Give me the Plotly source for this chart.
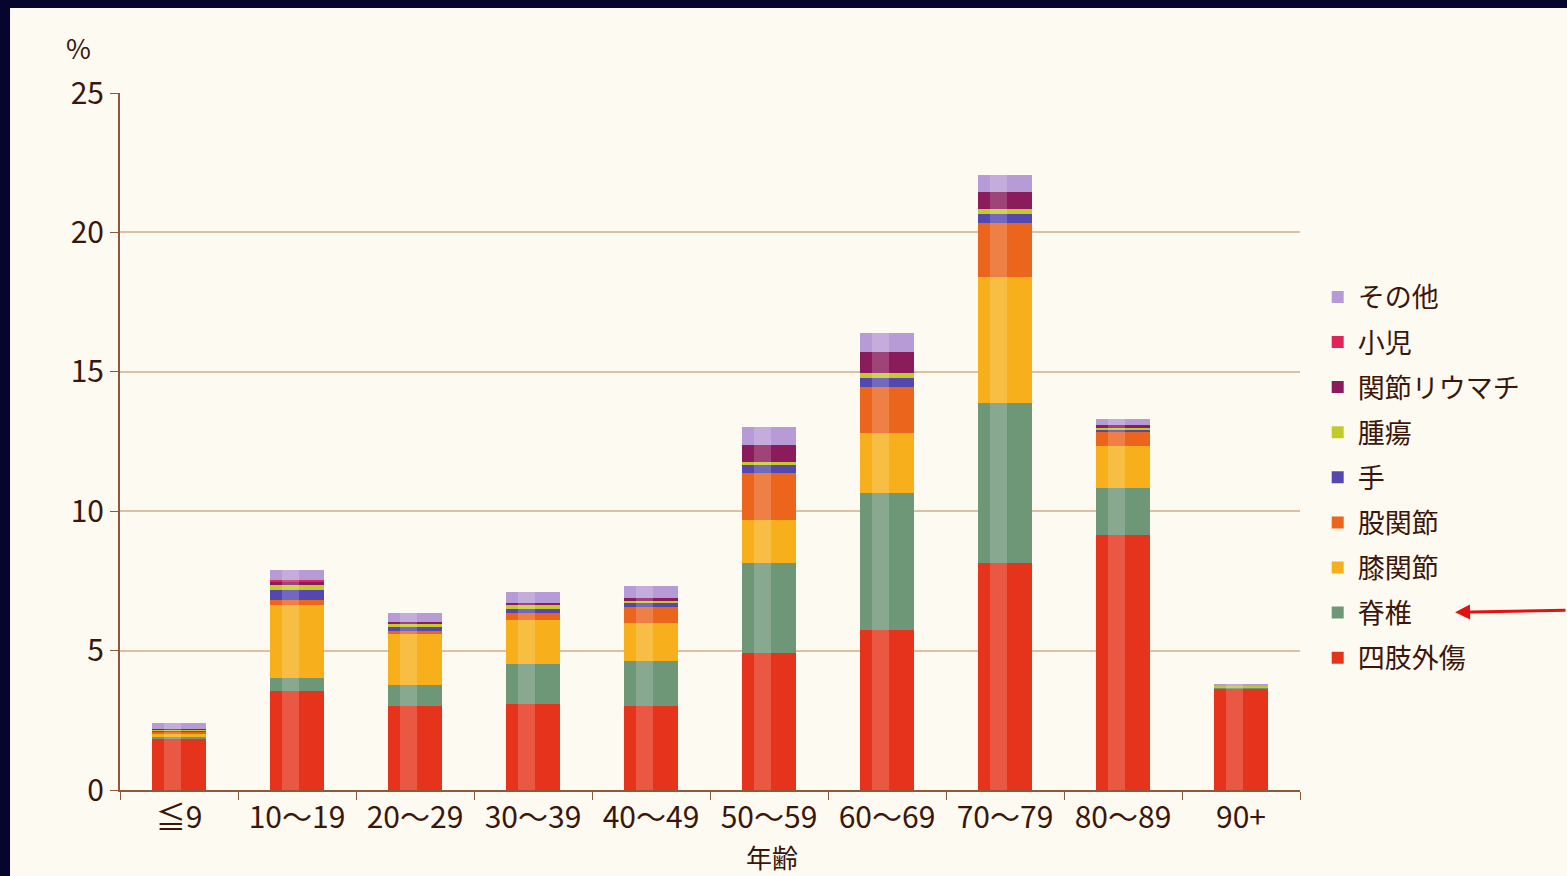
import plotly.graph_objects as go

#-------------------------------------------------------
### DATA ###

ages = ["≦9", "10〜19", "20〜29", "30〜39", "40〜49",
        "50〜59", "60〜69", "70〜79", "80〜89", "90+"]

shishi_gaisho = [1.85, 3.55, 3.00, 3.10, 3.00, 4.90, 5.75, 8.13, 9.15, 3.65]
sekitsui      = [0.05, 0.47, 0.78, 1.43, 1.63, 3.23, 4.90, 5.74, 1.67, 0.02]
shitsu_kansetsu = [0.10, 2.62, 1.83, 1.58, 1.35, 1.55, 2.17, 4.54, 1.52, 0.03]
ko_kansetsu   = [0.10, 0.16, 0.08, 0.24, 0.60, 1.68, 1.62, 1.92, 0.51, 0.03]
te            = [0.03, 0.37, 0.18, 0.16, 0.11, 0.30, 0.33, 0.33, 0.08, 0.00]
shuyo         = [0.05, 0.18, 0.07, 0.12, 0.09, 0.12, 0.18, 0.17, 0.06, 0.02]
rheumatism    = [0.02, 0.10, 0.09, 0.09, 0.10, 0.59, 0.75, 0.63, 0.10, 0.01]
shoni         = [0.00, 0.08, 0.00, 0.00, 0.00, 0.00, 0.00, 0.00, 0.00, 0.00]
sonota        = [0.20, 0.36, 0.31, 0.38, 0.44, 0.66, 0.68, 0.60, 0.22, 0.03]

series = [
    ("四肢外傷", shishi_gaisho, "#e6341c"),
    ("脊椎", sekitsui, "#6e9778"),
    ("膝関節", shitsu_kansetsu, "#f7b01c"),
    ("股関節", ko_kansetsu, "#ec651d"),
    ("手", te, "#5448b0"),
    ("腫瘍", shuyo, "#c3cb2b"),
    ("関節リウマチ", rheumatism, "#8a1c5c"),
    ("小児", shoni, "#e0245a"),
    ("その他", sonota, "#b79bd6"),
]

# stack totals, used for the light "cylinder" highlight drawn over each bar
totals = [sum(v) for v in zip(*[s[1] for s in series])]

#-------------------------------------------------------
### FIGURE ###

FONT = "Noto Sans CJK JP"
BROWN = "#3b160a"
AXIS = "#8a5a3a"

fig = go.Figure()
for i, (name, vals, col) in enumerate(series):
    fig.add_trace(go.Bar(x=ages, y=vals, name=name, width=0.46,
                         legendgroup=name, legendrank=100 - i,
                         marker=dict(color=col, line=dict(width=0))))

# soft highlight stripe on an overlaid axis (so it is not stacked)
fig.add_trace(go.Bar(x=ages, y=totals, xaxis="x2", width=0.15, offset=-0.13,
                     marker=dict(color="rgba(255,255,255,0.18)", line=dict(width=0)),
                     showlegend=False, hoverinfo="skip"))

fig.update_layout(
    barmode="stack",
    width=1567, height=876,
    margin=dict(l=120, r=267, t=93, b=86),
    paper_bgcolor="#05052e",
    plot_bgcolor="#fdfaf1",
    font=dict(family=FONT, color=BROWN),
    showlegend=True,
    legend=dict(traceorder="grouped", x=1.015, y=0.742,
                xanchor="left", yanchor="top", tracegroupgap=7,
                font=dict(size=27, color=BROWN),
                bgcolor="rgba(0,0,0,0)", itemwidth=30),
    xaxis=dict(
        range=[-0.5, 9.5],
        showline=True, linecolor=AXIS, linewidth=2,
        ticks="outside", tickson="boundaries", ticklen=8, tickcolor=AXIS,
        tickfont=dict(size=30, color=BROWN),
    ),
    xaxis2=dict(overlaying="x", visible=False, range=[-0.5, 9.5]),
    yaxis=dict(
        range=[0, 25], dtick=5,
        showline=True, linecolor=AXIS, linewidth=2,
        ticks="outside", ticklen=8, tickcolor=AXIS,
        tickfont=dict(size=30, color=BROWN),
        showgrid=True, gridcolor="#dcc0a4", gridwidth=1.5,
        zeroline=False,
    ),
    shapes=[dict(type="rect", xref="paper", yref="paper",
                 x0=-0.0932, x1=1.23, y0=-0.13, y1=1.122,
                 fillcolor="#fdfaf1", line=dict(width=0), layer="below")],
    annotations=[
        dict(text="%", xref="paper", yref="paper", x=-0.035, y=1.036,
             xanchor="center", yanchor="bottom", showarrow=False,
             borderpad=0, font=dict(size=27, color=BROWN)),
        dict(text="年齢", xref="paper", yref="paper", x=0.5525, y=-0.096,
             xanchor="center", yanchor="middle", showarrow=False,
             font=dict(size=26, color=BROWN)),
        dict(text="", xref="paper", yref="paper", x=1.1314, y=0.255,
             ax=112, ay=-2, axref="pixel", ayref="pixel",
             showarrow=True, arrowhead=2, arrowsize=1, arrowwidth=3,
             arrowcolor="#e61010"),
    ],
)

#-------------------------------------------------------
### PLOT ###

fig.write_html("out.html", config={"displayModeBar": False},
               post_script="document.body.style.margin='0';"
                           "document.body.style.background='#05052e';")
